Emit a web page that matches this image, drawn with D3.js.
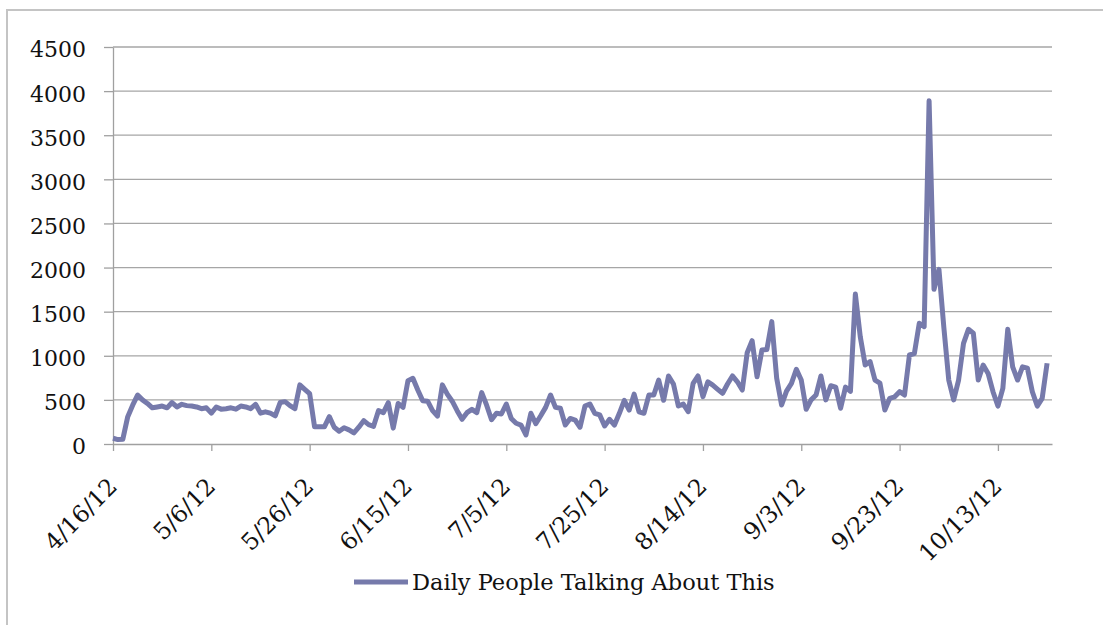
<!DOCTYPE html>
<html>
<head>
<meta charset="utf-8">
<script src="https://cdn.jsdelivr.net/npm/d3@7"></script>
<style>
  body { margin: 0; background: #fff; }
  svg { display: block; }
  text { font-family: "DejaVu Serif", serif; fill: #111; }
</style>
</head>
<body>
<svg id="chart" width="1103" height="625"></svg>
<script>
const seriesName = 'Daily People Talking About This';
const firstDay = '2012-04-16';
const lastAxisDay = '2012-10-24';

// one value per day, starting 4/16/12
const dailyTalking = [
  65, 50, 55, 310, 440, 555, 500, 460, 410, 420,
  430, 410, 470, 420, 450, 435, 430, 420, 400, 410,
  350, 420, 395, 400, 410, 395, 430, 420, 400, 450,
  350, 365, 350, 320, 470, 480, 435, 400, 670, 620,
  570, 195, 195, 195, 310, 190, 145, 185, 160, 125,
  190, 265, 220, 200, 378, 355, 468, 180, 460, 415,
  718, 745, 612, 490, 485, 378, 317, 670, 565, 485,
  378, 280, 355, 393, 355, 582, 440, 275, 348, 340,
  453, 290, 235, 215, 102, 348, 230, 320, 415, 555,
  415, 405, 215, 290, 272, 190, 430, 453, 348, 330,
  205, 280, 215, 348, 495, 385, 565, 365, 348, 555,
  555, 725, 495, 770, 680, 430, 453, 366, 688, 771,
  537, 705, 667, 620, 575, 680, 771, 705, 612, 1035,
  1171, 763, 1065, 1070, 1387, 745, 442, 600, 688, 847,
  725, 393, 500, 555, 771, 500, 660, 645, 405, 645,
  597, 1700, 1216, 895, 933, 725, 690, 385, 518, 535,
  593, 555, 1009, 1025, 1368, 1330, 3891, 1753, 1980, 1322,
  725, 500, 725, 1140, 1300, 1255, 725, 895, 800, 593,
  430, 630, 1300, 875, 725, 875, 860, 593, 430, 518,
  915
];

const xTickLabels = ['4/16/12', '5/6/12', '5/26/12', '6/15/12', '7/5/12',
  '7/25/12', '8/14/12', '9/3/12', '9/23/12', '10/13/12'];
const yTicks = [0, 500, 1000, 1500, 2000, 2500, 3000, 3500, 4000, 4500];

const parseDay = d3.timeParse('%Y-%m-%d');
const parseTick = d3.timeParse('%m/%d/%y');
const start = parseDay(firstDay);
const points = dailyTalking.map((v, i) => ({ date: d3.timeDay.offset(start, i), value: v }));
const tickDates = xTickLabels.map(parseTick);

const svg = d3.select('#chart');

// chart frame (light border, runs off the right and bottom)
svg.append('path')
  .attr('d', 'M7,625V10H1103')
  .attr('fill', 'none')
  .attr('stroke', '#c4c4c4')
  .attr('stroke-width', 2);

const plotLeft = 113, plotRight = 1052, plotTop = 47, plotBottom = 444;

const x = d3.scaleTime()
  .domain([start, parseDay(lastAxisDay)])
  .range([plotLeft, plotRight]);

const y = d3.scaleLinear()
  .domain([0, 4500])
  .range([plotBottom, plotTop]);

// gridlines
svg.append('g')
  .selectAll('line')
  .data(yTicks.filter(d => d > 0))
  .enter()
  .append('line')
  .attr('x1', plotLeft)
  .attr('x2', plotRight)
  .attr('y1', d => y(d))
  .attr('y2', d => y(d))
  .attr('stroke', '#a6a6a6')
  .attr('stroke-width', 1.3);

// y axis
const yAxis = svg.append('g')
  .attr('transform', `translate(${plotLeft},0)`)
  .call(d3.axisLeft(y).tickValues(yTicks).tickSize(9).tickSizeOuter(0).tickPadding(18)
    .tickFormat(d3.format('d')));
yAxis.selectAll('line, path').attr('stroke', '#a0a0a0').attr('stroke-width', 1.3);
yAxis.selectAll('text')
  .attr('font-size', 22)
  .attr('font-family', '"DejaVu Serif", serif')
  .attr('fill', '#111')
  .attr('dy', '0.45em');

// x axis
const xAxis = svg.append('g')
  .attr('transform', `translate(0,${plotBottom})`)
  .call(d3.axisBottom(x).tickValues(tickDates).tickSize(7).tickSizeOuter(0)
    .tickFormat((d, i) => xTickLabels[i]));
xAxis.selectAll('line, path').attr('stroke', '#a0a0a0').attr('stroke-width', 1.3);
xAxis.selectAll('text')
  .attr('font-size', 23.5)
  .attr('font-family', '"DejaVu Serif", serif')
  .attr('fill', '#111')
  .attr('text-anchor', 'end')
  .attr('x', 0)
  .attr('y', 0)
  .attr('dy', 0)
  .attr('transform', 'translate(5,44) rotate(-45)');

// series line
const line = d3.line()
  .x(d => x(d.date))
  .y(d => y(d.value));

svg.append('path')
  .datum(points)
  .attr('d', line)
  .attr('fill', 'none')
  .attr('stroke', '#767aab')
  .attr('stroke-width', 5)
  .attr('stroke-linejoin', 'round');

// legend
const legend = svg.append('g').attr('transform', 'translate(354,582)');
legend.append('line')
  .attr('x1', 0).attr('x2', 54)
  .attr('stroke', '#767aab')
  .attr('stroke-width', 5);
legend.append('text')
  .attr('x', 58)
  .attr('dy', '0.35em')
  .attr('font-size', 22.5)
  .text(seriesName);
</script>
</body>
</html>
